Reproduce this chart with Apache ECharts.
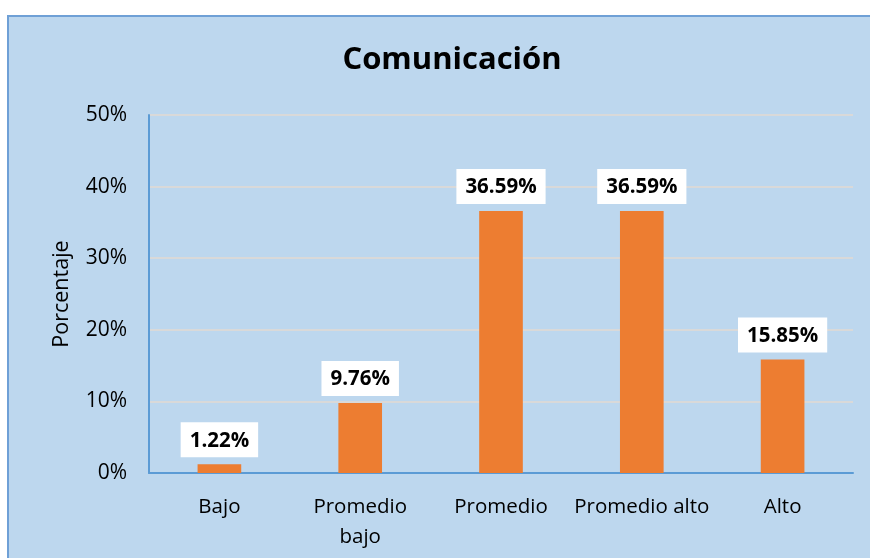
<!DOCTYPE html>
<html><head><meta charset="utf-8">
<script src="https://cdn.jsdelivr.net/npm/echarts@6/dist/echarts.min.js"></script>
<style>
html,body{margin:0;padding:0;background:#fff;width:870px;height:558px;overflow:hidden;}
#frame{position:absolute;left:7px;top:15px;width:880px;height:560px;background:#BDD7EE;border-left:2px solid #6FA0D6;border-top:2px solid #6FA0D6;}
#chart{position:absolute;left:0;top:0;width:870px;height:558px;}
</style></head>
<body>
<div id="frame"></div>
<div id="chart"></div>
<script>
const categories = ['Bajo', 'Promedio\nbajo', 'Promedio', 'Promedio alto', 'Alto'];
const values = [1.22, 9.76, 36.59, 36.59, 15.85];
const yTicks = [0, 10, 20, 30, 40, 50];
const titleText = 'Comunicación';
const yName = 'Porcentaje';

const chart = echarts.init(document.getElementById('chart'), null, {renderer: 'canvas'});
const font = '"Open Sans", "Noto Sans", sans-serif';
chart.setOption({
  backgroundColor: 'transparent',
  animation: false,
  title: {
    text: titleText, left: 447, top: 40, textAlign: 'center',
    textStyle: {fontFamily: font, fontWeight: 'bold', fontSize: 31, color: '#000'}
  },
  grid: {left: 149, right: 17, top: 115, bottom: 85, containLabel: false},
  xAxis: {
    type: 'category', data: categories,
    axisLine: {lineStyle: {color: '#5B9BD5', width: 2}},
    axisTick: {show: false},
    axisLabel: {fontFamily: font, fontSize: 20.5, color: '#000', margin: 19, lineHeight: 30, interval: 0}
  },
  yAxis: {
    type: 'value', min: yTicks[0], max: yTicks[yTicks.length - 1], interval: 10,
    name: yName, nameLocation: 'middle', nameGap: 76, nameRotate: 90,
    nameTextStyle: {fontFamily: font, fontSize: 21.5, color: '#000'},
    axisLine: {show: true, lineStyle: {color: '#5B9BD5', width: 2}},
    axisTick: {show: false},
    splitLine: {lineStyle: {color: '#D9D9D9', width: 2}},
    axisLabel: {fontFamily: font, fontSize: 21, color: '#000', margin: 22, formatter: v => v + '%'}
  },
  series: [{
    type: 'bar', data: values, barWidth: '31%',
    itemStyle: {color: '#ED7D31'},
    label: {
      show: true, position: 'top', distance: 7,
      formatter: p => p.value.toFixed(2) + '%',
      backgroundColor: '#fff', padding: [8, 9, 6, 9],
      fontFamily: font, fontWeight: 'bold', fontSize: 20.5, color: '#000'
    }
  }]
});
</script>
</body></html>
